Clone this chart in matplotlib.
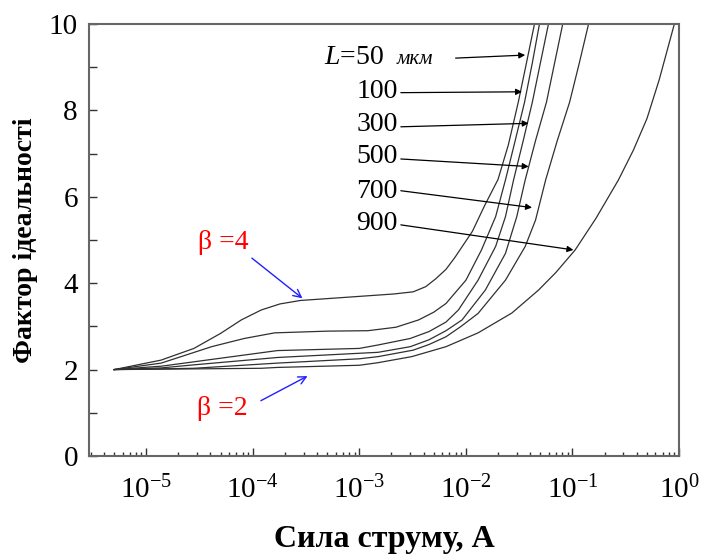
import numpy as np
import matplotlib
matplotlib.use('Agg')
import matplotlib.pyplot as plt
from matplotlib.ticker import LogLocator, MultipleLocator, NullFormatter

plt.rcParams['font.family'] = ['Liberation Serif', 'DejaVu Serif']
plt.rcParams['mathtext.fontset'] = 'custom'
plt.rcParams['mathtext.rm'] = 'Liberation Serif'
plt.rcParams['mathtext.it'] = 'Liberation Serif:italic'

# current (A) and ideality factor, one pair per base length L
labels = ['50', '100', '300', '500', '700', '900']

i50 = [5e-6, 1.38e-5, 2.8e-5, 5.0e-5, 7.8e-5, 1.2e-4, 1.8e-4, 2.8e-4, 7.2e-4, 2.1e-3,
       3.2e-3, 4.2e-3, 5.2e-3, 6.5e-3, 7.9e-3, 1.15e-2, 1.5e-2, 2.0e-2, 2.5e-2, 3.1e-2,
       3.7e-2, 4.4e-2]
n50 = [2.00, 2.22, 2.49, 2.84, 3.15, 3.38, 3.52, 3.60, 3.67, 3.75,
       3.80, 3.92, 4.10, 4.32, 4.60, 5.20, 5.80, 6.40, 7.20, 8.19,
       9.10, 10.0]

i100 = [5e-6, 1.38e-5, 4.1e-5, 8.3e-5, 1.6e-4, 5e-4, 1.2e-3, 2.2e-3, 3.6e-3, 5.0e-3,
        6.5e-3, 1.0e-2, 1.4e-2, 1.9e-2, 2.35e-2, 2.9e-2, 3.55e-2, 4.2e-2, 4.9e-2]
n100 = [2.00, 2.15, 2.53, 2.72, 2.85, 2.89, 2.90, 2.98, 3.15, 3.33,
        3.53, 4.07, 4.77, 5.54, 6.39, 7.30, 8.19, 9.10, 10.0]

i300 = [5e-6, 1.4e-5, 2.8e-5, 1.7e-4, 1.0e-3, 1.5e-3, 3.0e-3, 4.5e-3, 6.5e-3, 8.5e-3,
        1.3e-2, 1.9e-2, 2.35e-2, 2.8e-2, 3.45e-2, 4.2e-2, 5.0e-2, 5.95e-2]
n300 = [2.00, 2.08, 2.18, 2.44, 2.49, 2.57, 2.72, 2.88, 3.10, 3.38,
        4.07, 4.85, 5.54, 6.39, 7.30, 8.19, 9.10, 10.0]

i500 = [5e-6, 1.4e-5, 2.8e-5, 1.7e-4, 1.5e-3, 3.0e-3, 4.5e-3, 6.5e-3, 9.2e-3, 1.52e-2,
        2.35e-2, 3.0e-2, 3.6e-2, 4.5e-2, 5.7e-2, 6.8e-2, 8.1e-2]
n500 = [2.00, 2.04, 2.11, 2.28, 2.40, 2.53, 2.69, 2.90, 3.15, 3.84,
        4.69, 5.54, 6.39, 7.30, 8.19, 9.10, 10.0]

i700 = [5e-6, 2.8e-5, 1.7e-4, 1.0e-3, 1.5e-3, 3.2e-3, 4.5e-3, 6.5e-3, 9.0e-3, 1.3e-2,
        2.35e-2, 3.6e-2, 4.5e-2, 5.6e-2, 7.2e-2, 9.4e-2, 0.116, 0.1416]
n700 = [2.00, 2.03, 2.15, 2.25, 2.30, 2.45, 2.58, 2.76, 3.00, 3.30,
        4.07, 4.85, 5.46, 6.39, 7.30, 8.19, 9.10, 10.0]

i900 = [5e-6, 1.2e-4, 1.7e-4, 1.0e-3, 1.5e-3, 3.1e-3, 6.5e-3, 1.3e-2, 2.7e-2, 4.8e-2,
        7.0e-2, 0.106, 0.166, 0.27, 0.373, 0.50, 0.65, 0.904]
n900 = [2.00, 2.03, 2.05, 2.10, 2.16, 2.30, 2.53, 2.85, 3.31, 3.84,
        4.25, 4.77, 5.50, 6.39, 7.08, 7.81, 8.70, 10.0]

currents = [i50, i100, i300, i500, i700, i900]
factors = [n50, n100, n300, n500, n700, n900]

fig = plt.figure(figsize=(7.03, 5.55), dpi=100)
ax = fig.add_axes([0.1266, 0.1784, 0.8393, 0.7784])

for cur, fac in zip(currents, factors):
    ax.plot(cur, fac, color='#303030', lw=0.9)

ax.set_xscale('log')
ax.set_xlim(2.9e-6, 1)
ax.set_ylim(0, 10)
ax.xaxis.set_major_locator(LogLocator(base=10, numticks=10))
ax.xaxis.set_minor_locator(LogLocator(base=10, subs=np.arange(2, 10), numticks=10))
ax.xaxis.set_minor_formatter(NullFormatter())
ax.yaxis.set_major_locator(MultipleLocator(2))
ax.yaxis.set_minor_locator(MultipleLocator(1))

ax.tick_params(which='both', direction='in', top=False, right=False, labelsize=21, color='#333333')
ax.tick_params(which='major', length=6, width=1)
ax.tick_params(axis='x', which='minor', length=3, width=1)
ax.tick_params(axis='y', which='minor', length=6, width=1)
ax.tick_params(axis='x', pad=14)
ax.tick_params(axis='y', pad=8)
for s in ax.spines.values():
    s.set_color('#666666')
    s.set_linewidth(1.5)

ax.set_xlabel('Сила струму, А', fontsize=23, fontweight='bold', labelpad=15)
ax.set_ylabel('Фактор ідеальності', fontsize=20, fontweight='bold', labelpad=8)

# L labels with arrows
arr = dict(arrowstyle='-|>', color='black', lw=0.9, mutation_scale=9, shrinkA=0, shrinkB=0)
ax.text(4.7e-4, 9.08, '$L$=50', fontsize=20, ha='left', va='baseline')
ax.text(3.3e-3, 9.08, 'мкм', fontsize=15, style='italic', ha='center', va='baseline')
ax.annotate('', xy=(3.6e-2, 9.28), xytext=(8.0e-3, 9.21), arrowprops=arr)

lab_y = [8.43, 7.67, 6.93, 6.13, 5.39]
tail_y = [8.41, 7.62, 6.875, 6.14, 5.35]
tip_x = [3.36e-2, 3.88e-2, 3.88e-2, 4.17e-2, 0.102]
tip_y = [8.43, 7.70, 6.70, 5.75, 4.77]
for lab, ly, ty, hx, hy in zip(labels[1:], lab_y, tail_y, tip_x, tip_y):
    ax.text(2.3e-3, ly, lab, fontsize=20, ha='right', va='center')
    ax.annotate('', xy=(hx, hy), xytext=(2.45e-3, ty), arrowprops=arr)

# beta labels
barr = dict(arrowstyle='->', color='#2020ff', lw=1.0, mutation_scale=14, shrinkA=0, shrinkB=0)
ax.text(5.3e-5, 4.95, 'β =4', fontsize=20, color='red', ha='center', va='center')
ax.annotate('', xy=(2.92e-4, 3.65), xytext=(9.8e-5, 4.58), arrowprops=barr)
ax.text(5.2e-5, 1.11, 'β =2', fontsize=20, color='red', ha='center', va='center')
ax.annotate('', xy=(3.26e-4, 1.85), xytext=(1.19e-4, 1.28), arrowprops=barr)

fig.savefig('out.png', dpi=100)
